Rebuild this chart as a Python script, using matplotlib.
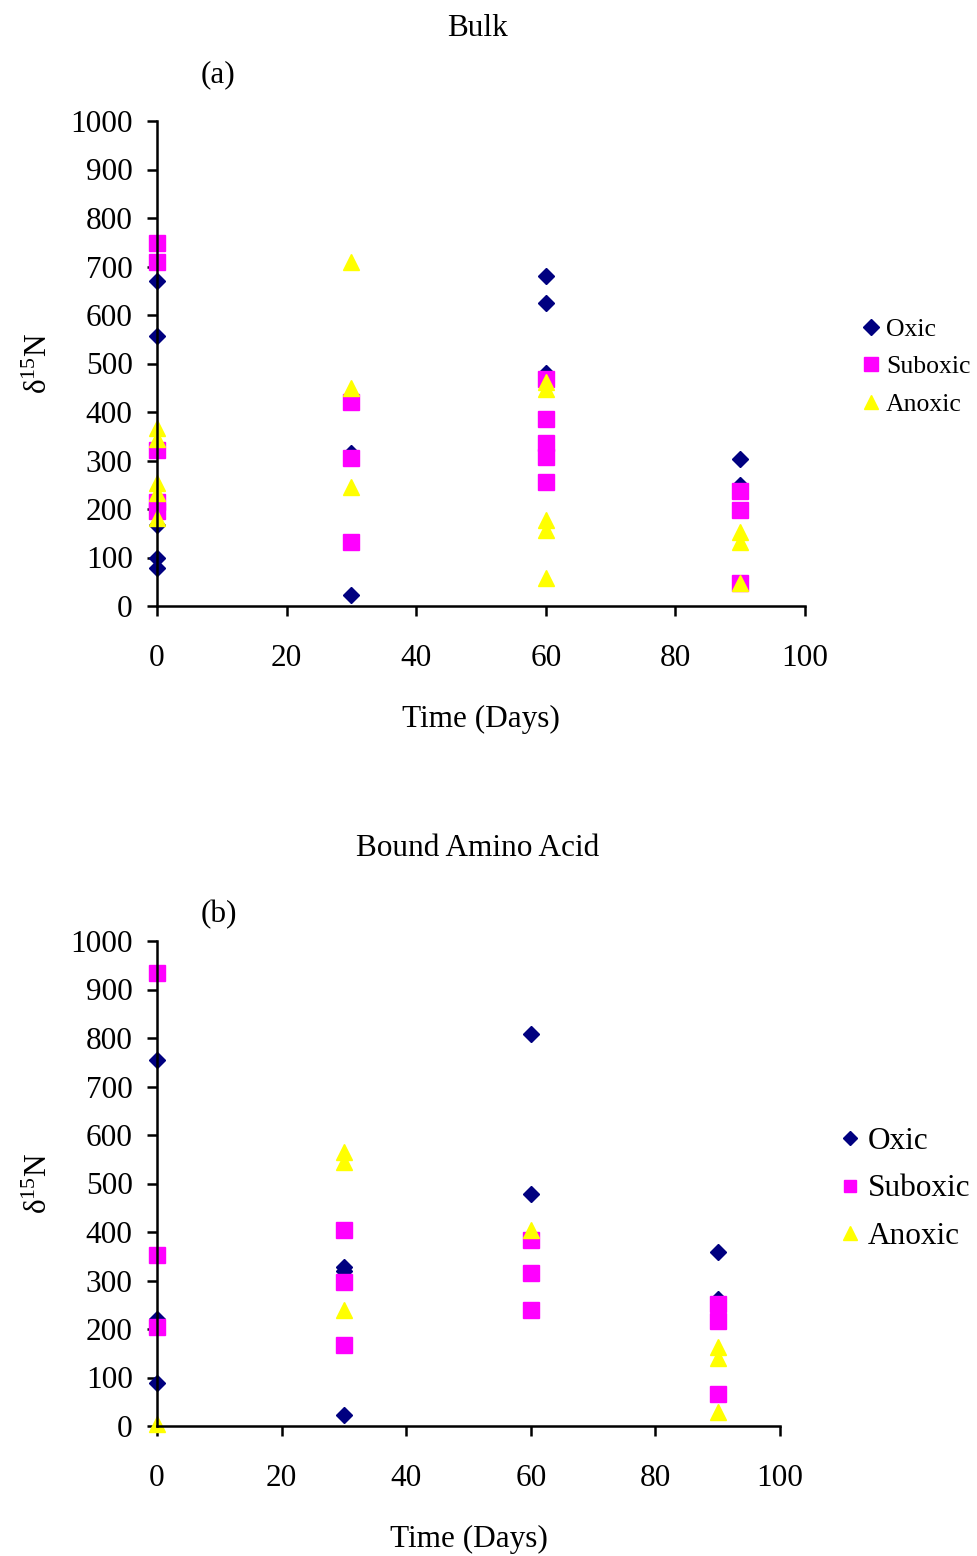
import matplotlib
matplotlib.use("Agg")
import matplotlib.pyplot as plt

# ---- Panel (a) Bulk ----
a_oxic_t = [0, 0, 0, 0, 0, 30, 30, 60, 60, 60, 90, 90]
a_oxic_v = [670, 557, 167, 99, 78, 315, 23, 680, 625, 480, 303, 250]
a_sub_t = [0, 0, 0, 0, 0, 30, 30, 30, 60, 60, 60, 60, 60, 90, 90, 90]
a_sub_v = [748, 709, 322, 215, 195, 420, 305, 132, 468, 385, 336, 307, 256, 238, 198, 47]
a_anox_t = [0, 0, 0, 0, 0, 30, 30, 30, 60, 60, 60, 60, 60, 90, 90, 90]
a_anox_v = [367, 345, 254, 233, 181, 709, 449, 245, 462, 447, 177, 157, 58, 153, 132, 47]

# ---- Panel (b) Bound Amino Acid ----
b_oxic_t = [0, 0, 0, 30, 30, 30, 60, 60, 90, 90]
b_oxic_v = [755, 220, 88, 328, 320, 23, 808, 478, 359, 262]
b_sub_t = [0, 0, 0, 30, 30, 30, 60, 60, 60, 90, 90, 90]
b_sub_v = [934, 352, 204, 404, 297, 167, 383, 315, 239, 251, 216, 66]
b_anox_t = [0, 30, 30, 30, 60, 90, 90, 90]
b_anox_v = [5, 565, 544, 239, 404, 163, 140, 29]

x_ticks = [0, 20, 40, 60, 80, 100]
y_ticks = [0, 100, 200, 300, 400, 500, 600, 700, 800, 900, 1000]

plt.rcParams['font.family'] = ['Liberation Serif', 'DejaVu Serif']
plt.rcParams['mathtext.fontset'] = 'custom'
plt.rcParams['mathtext.rm'] = 'Liberation Serif'
plt.rcParams['mathtext.it'] = 'Liberation Serif:italic'

W, H = 977, 1556
fig = plt.figure(figsize=(W / 100, H / 100), dpi=100)

def ax_rect(l, r, t, b):
    return [l / W, 1 - b / H, (r - l) / W, (b - t) / H]

navy = '#000080'
mag = '#FF00FF'
yel = '#FFFF00'
FS = 22.5

def panel(rect, ox_t, ox_v, su_t, su_v, an_t, an_v, title, tag, title_y, tag_xy,
          leg_xy, leg_fs, hl, htp, ls, mscale):
    ax = fig.add_axes(rect)
    ax.plot(ox_t, ox_v, linestyle='none', marker='D', color=navy, markersize=8.6,
            label='Oxic', clip_on=False)
    ax.plot(su_t, su_v, linestyle='none', marker='s', color=mag, markersize=11,
            label='Suboxic', clip_on=False)
    ax.plot(an_t, an_v, linestyle='none', marker='^', color=yel, markersize=11.8,
            label='Anoxic', clip_on=False)
    ax.set_xlim(0, 100)
    ax.set_ylim(0, 1000)
    ax.set_xticks(x_ticks)
    ax.set_yticks(y_ticks)
    ax.spines['top'].set_visible(False)
    ax.spines['right'].set_visible(False)
    ax.spines['left'].set_linewidth(1.8)
    ax.spines['bottom'].set_linewidth(1.8)
    ax.tick_params(axis='both', direction='out', length=7.5, width=1.8,
                   labelsize=FS)
    ax.tick_params(axis='y', pad=10)
    ax.tick_params(axis='x', pad=20)
    ax.set_xlabel('Time (Days)', fontsize=FS, labelpad=23)
    ax.set_ylabel('δ$^{15}$N', fontsize=FS, labelpad=12)
    fig.text(478 / W, 1 - title_y / H, title, ha='center', va='center', fontsize=FS)
    fig.text(tag_xy[0] / W, 1 - tag_xy[1] / H, tag, ha='center', va='center', fontsize=FS)
    ax.legend(loc='center left', bbox_to_anchor=(leg_xy[0] / W, 1 - leg_xy[1] / H),
              bbox_transform=fig.transFigure, frameon=False,
              fontsize=leg_fs, handlelength=hl, handletextpad=htp,
              borderaxespad=0, borderpad=0, labelspacing=ls, markerscale=mscale)
    return ax

panel(ax_rect(157, 805, 121, 606), a_oxic_t, a_oxic_v, a_sub_t, a_sub_v,
      a_anox_t, a_anox_v, 'Bulk', '(a)', 28, (218, 75),
      (864, 367), 18.5, 0.55, 0.3, 0.57, 0.9)
panel(ax_rect(157, 780, 941, 1426), b_oxic_t, b_oxic_v, b_sub_t, b_sub_v,
      b_anox_t, b_anox_v, 'Bound Amino Acid', '(b)', 849, (219, 915),
      (843, 1189), 22.5, 0.45, 0.35, 0.6, 0.8)

fig.savefig('out.png', dpi=100)
